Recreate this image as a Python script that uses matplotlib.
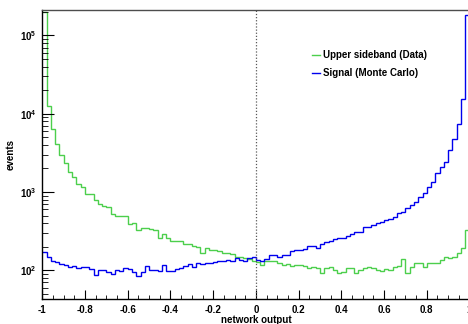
import numpy as np
import matplotlib
matplotlib.use("Agg")
import matplotlib.pyplot as plt
from matplotlib.ticker import FixedLocator, LogLocator, NullFormatter

plt.rcParams["font.family"] = "Liberation Sans"
plt.rcParams["font.weight"] = "bold"
plt.rcParams["mathtext.fontset"] = "custom"
plt.rcParams["mathtext.rm"] = "Liberation Sans:bold"
plt.rcParams["mathtext.it"] = "Liberation Sans:bold"
plt.rcParams["mathtext.bf"] = "Liberation Sans:bold"

# 100 bins from -1 to 1
edges = np.linspace(-1, 1, 101)

# Upper sideband (Data), events per bin
data_counts = [
    200000, 12650, 6300, 4100, 2970, 2365, 1815, 1567, 1253, 1148,
    942, 930, 791, 703, 663, 650, 523, 498, 495, 490,
    386, 398, 324, 347, 345, 335, 327, 256, 291, 256,
    239, 239, 239, 217, 217, 204, 197, 165, 191, 182,
    182, 176, 168, 168, 160, 147, 147, 142, 138, 133,
    129, 117, 131, 133, 133, 125, 117, 120, 113, 117,
    118, 115, 108, 111, 108, 93, 108, 110, 100, 93,
    95, 106, 108, 92, 101, 106, 110, 106, 100, 97,
    103, 100, 111, 113, 138, 93, 111, 123, 123, 111,
    123, 125, 125, 135, 149, 142, 147, 165, 195, 327,
]

# Signal (Monte Carlo), events per bin
mc_counts = [
    170, 147, 131, 126, 122, 118, 111, 113, 107, 109,
    111, 104, 87, 102, 100, 95, 90, 100, 98, 106,
    104, 95, 85, 96, 112, 102, 100, 99, 117, 99,
    99, 103, 106, 115, 120, 111, 125, 120, 125, 125,
    129, 131, 131, 135, 133, 145, 135, 130, 145, 150,
    137, 132, 140, 155, 158, 148, 158, 157, 175, 180,
    182, 185, 204, 204, 192, 218, 232, 238, 248, 262,
    262, 272, 290, 306, 311, 354, 361, 379, 405, 418,
    439, 448, 484, 535, 560, 619, 682, 752, 871, 962,
    1169, 1353, 1733, 2105, 2438, 3435, 4710, 7380, 15270, 180000,
]

xticks = [-1, -0.8, -0.6, -0.4, -0.2, 0, 0.2, 0.4, 0.6, 0.8, 1]
xtick_labels = ["-1", "-0.8", "-0.6", "-0.4", "-0.2", "0", "0.2", "0.4", "0.6", "0.8", "1"]

fig = plt.figure(figsize=(4.68, 3.24), dpi=100)
ax = fig.add_axes([42.3 / 468, 25 / 324, 427.2 / 468, 289 / 324])

ax.stairs(data_counts, edges, baseline=None, color="#4ccf4c", lw=1.0,
          label="Upper sideband (Data)")
ax.stairs(mc_counts, edges, baseline=None, color="#0000ee", lw=1.0,
          label="Signal (Monte Carlo)")
ax.axvline(0, color="0.35", ls=(0, (1, 1.5)), lw=0.9)

ax.set_yscale("log")
ax.set_xlim(-1, 1)
ax.set_ylim(43, 2.11e5)

ax.xaxis.set_major_locator(FixedLocator(xticks))
ax.set_xticklabels(xtick_labels)
ax.xaxis.set_minor_locator(FixedLocator(np.arange(-1, 1.001, 0.05)))
ax.yaxis.set_major_locator(LogLocator(base=10))
ax.yaxis.set_minor_locator(LogLocator(base=10, subs=np.arange(2, 10)))
ax.yaxis.set_minor_formatter(NullFormatter())

ax.tick_params(axis="x", which="major", direction="in", length=6.2, width=0.8,
               labelsize=7, pad=4)
ax.tick_params(axis="x", which="minor", direction="in", length=3.1, width=0.6)
ax.tick_params(axis="y", which="major", direction="in", length=8.8, width=0.8,
               labelsize=7, pad=4)
ax.tick_params(axis="y", which="minor", direction="in", length=4.5, width=0.6)

for s in ax.spines.values():
    s.set_linewidth(1.0)
ax.spines["top"].set_color("0.3")

ax.set_xlabel("network output", fontsize=7, fontweight="bold", labelpad=0)
ax.set_ylabel("events", fontsize=7, fontweight="bold", labelpad=3)

ax.legend(loc="upper left", bbox_to_anchor=(0.61, 0.892), frameon=False,
          fontsize=7, handlelength=0.9, handletextpad=0.3, labelspacing=0.85)

fig.savefig("out.png", dpi=100)
